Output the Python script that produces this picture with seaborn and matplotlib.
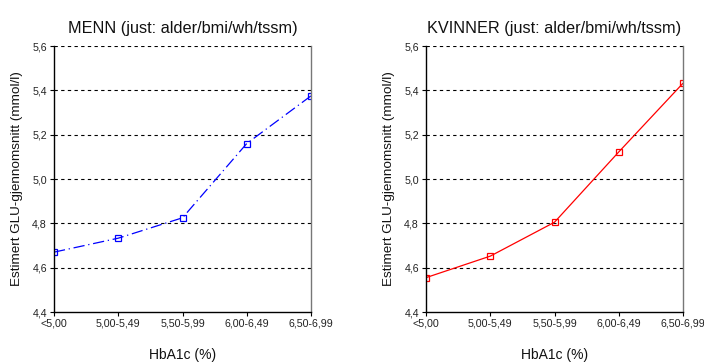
import matplotlib
matplotlib.use("Agg")
import matplotlib.pyplot as plt
import seaborn as sns
import pandas as pd

categories = ["<5,00", "5,00-5,49", "5,50-5,99", "6,00-6,49", "6,50-6,99"]
menn_values = [4.67, 4.733, 4.825, 5.16, 5.375]
kvinner_values = [4.555, 4.652, 4.805, 5.122, 5.432]
y_ticks = [4.4, 4.6, 4.8, 5.0, 5.2, 5.4, 5.6]
y_tick_labels = ["4,4", "4,6", "4,8", "5,0", "5,2", "5,4", "5,6"]
titles = ["MENN (just: alder/bmi/wh/tssm)", "KVINNER (just: alder/bmi/wh/tssm)"]
x_label = "HbA1c (%)"
y_label = "Estimert GLU-gjennomsnitt (mmol/l)"

sns.set_style("white")
plt.rcParams["font.family"] = ["Liberation Sans", "DejaVu Sans"]

fig = plt.figure(figsize=(7.04, 3.63), dpi=100)
W, H = 704, 363
ax1 = fig.add_axes([54 / W, 1 - 312 / H, (311 - 54) / W, (312 - 46) / H])
ax2 = fig.add_axes([426 / W, 1 - 312 / H, (683 - 426) / W, (312 - 46) / H])

specs = [
    (ax1, menn_values, "#0000FF", (9, 3, 1, 3), titles[0]),
    (ax2, kvinner_values, "#FF0000", "", titles[1]),
]
for ax, vals, color, dash, title in specs:
    df = pd.DataFrame({"x": list(range(len(categories))), "y": vals, "g": ["a"] * len(vals)})
    sns.lineplot(data=df, x="x", y="y", style="g", dashes=[dash], markers=["s"],
                 color=color, linewidth=0.9, markersize=5, markerfacecolor="none",
                 markeredgecolor=color, markeredgewidth=0.9, legend=False, ax=ax, sort=False)
    ax.set_xlim(0, len(categories) - 1)
    ax.set_ylim(4.4, 5.6)
    ax.set_xticks(range(len(categories)))
    ax.set_xticklabels(categories, fontsize=7.7)
    ax.set_yticks(y_ticks)
    ax.set_yticklabels(y_tick_labels, fontsize=7.7)
    for yv in y_ticks[1:]:
        ax.axhline(yv, color="black", linestyle=(0, (3, 3)), linewidth=0.8, zorder=0)
    ax.tick_params(axis="both", direction="out", length=3, width=0.8, color="black",
                   pad=2, labelcolor="#222222", left=True, bottom=True)
    for s in ["left", "bottom"]:
        ax.spines[s].set_color("black")
        ax.spines[s].set_linewidth(1.0)
    ax.spines["top"].set_visible(False)
    ax.spines["right"].set_color("#777777")
    ax.spines["right"].set_linewidth(1.0)
    ax.set_title(title, fontsize=11.7, pad=9, color="#111111")
    ax.set_xlabel(x_label, fontsize=10, labelpad=14, color="#111111")
    ax.set_ylabel(y_label, fontsize=9.7, labelpad=7, color="#111111")

fig.savefig("out.png", dpi=100)
